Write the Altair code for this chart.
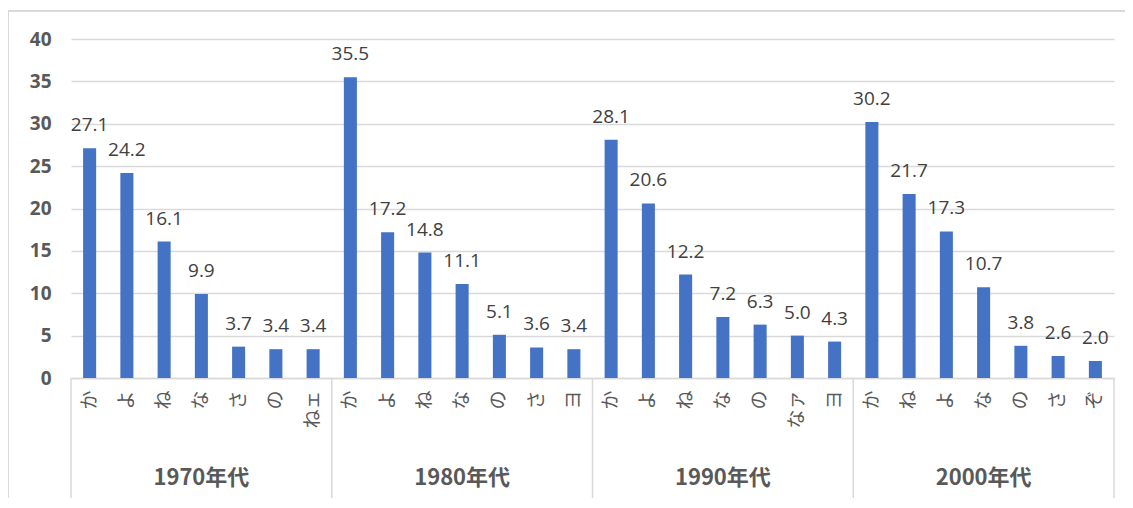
import altair as alt
import pandas as pd

groups = ["1970年代", "1980年代", "1990年代", "2000年代"]
cats_1970 = ["か", "よ", "ね", "な", "さ", "の", "ねェ"]
vals_1970 = [27.1, 24.2, 16.1, 9.9, 3.7, 3.4, 3.4]
cats_1980 = ["か", "よ", "ね", "な", "の", "さ", "ヨ"]
vals_1980 = [35.5, 17.2, 14.8, 11.1, 5.1, 3.6, 3.4]
cats_1990 = ["か", "よ", "ね", "な", "の", "なァ", "ヨ"]
vals_1990 = [28.1, 20.6, 12.2, 7.2, 6.3, 5.0, 4.3]
cats_2000 = ["か", "ね", "よ", "な", "の", "さ", "ぞ"]
vals_2000 = [30.2, 21.7, 17.3, 10.7, 3.8, 2.6, 2.0]

all_cats = [cats_1970, cats_1980, cats_1990, cats_2000]
all_vals = [vals_1970, vals_1980, vals_1990, vals_2000]

rows = []
for g, cs, vs in zip(groups, all_cats, all_vals):
    for c, v in zip(cs, vs):
        rows.append({"group": g, "cat": c, "key": f"{g}|{c}", "value": v})
df = pd.DataFrame(rows)
keys = list(df["key"])

W, H = 1043, 339
GRAY = "#d9d9d9"
TXT = "#595959"
NUMFONT = "Open Sans"
JPFONT = "Noto Sans CJK JP"

xenc = alt.X("key:N", sort=keys,
             scale=alt.Scale(paddingInner=0, paddingOuter=0),
             axis=alt.Axis(title=None, ticks=False, grid=False, domainColor=GRAY, domainWidth=1.5,
                           labelAngle=-90, labelExpr="split(datum.label, '|')[1]",
                           labelFont=JPFONT, labelFontSize=19, labelColor=TXT,
                           labelPadding=12))

bars = alt.Chart(df).mark_bar(color="#4472c4", width=alt.RelativeBandSize(0.35)).encode(
    x=xenc,
    y=alt.Y("value:Q", scale=alt.Scale(domain=[0, 40]),
            axis=alt.Axis(title=None, values=list(range(0, 41, 5)), domain=False, ticks=False,
                          labelFont=NUMFONT, labelFontWeight="bold", labelFontSize=19,
                          labelColor=TXT, labelPadding=20, gridColor=GRAY, gridWidth=1.5)),
)

labels = alt.Chart(df).mark_text(font=NUMFONT, fontSize=19, color="#404040",
                                 baseline="alphabetic", dy=-17).encode(
    x=alt.X("key:N", sort=keys),
    y="value:Q",
    text=alt.Text("value:Q", format=".1f"),
)

starts = pd.DataFrame({"key": [f"{g}|{cs[0]}" for g, cs in zip(groups, all_cats)]})
ends = pd.DataFrame({"key": [keys[-1]]})
mids = pd.DataFrame({"key": [f"{g}|{cs[3]}" for g, cs in zip(groups, all_cats)],
                     "group": groups})

sep1 = alt.Chart(starts).mark_rule(color=GRAY, strokeWidth=1.5).encode(
    x=alt.X("key:N", sort=keys, bandPosition=0), y=alt.value(H), y2=alt.value(H + 120))
sep2 = alt.Chart(ends).mark_rule(color=GRAY, strokeWidth=1.5).encode(
    x=alt.X("key:N", sort=keys, bandPosition=1), y=alt.value(H), y2=alt.value(H + 120))

glabels = alt.Chart(mids).mark_text(font=JPFONT, fontSize=22, fontWeight="bold", color=TXT,
                                    baseline="middle").encode(
    x=alt.X("key:N", sort=keys, bandPosition=0.5), y=alt.value(H + 100), text="group:N")

frame = alt.Chart(pd.DataFrame({"a": [0]})).mark_rect(fill=None, stroke=GRAY, strokeWidth=2).encode(
    x=alt.value(-63), x2=alt.value(W + 60), y=alt.value(-28), y2=alt.value(H + 200))

chart = alt.layer(frame, bars, labels, sep1, sep2, glabels).properties(
    width=W, height=H,
    autosize=alt.AutoSizeParams(type="none"),
    padding={"left": 63, "top": 31, "right": 11, "bottom": 120},
).configure(background="white").configure_view(stroke=None)

chart.save("out.html", embed_options={"renderer": "svg", "actions": False})
